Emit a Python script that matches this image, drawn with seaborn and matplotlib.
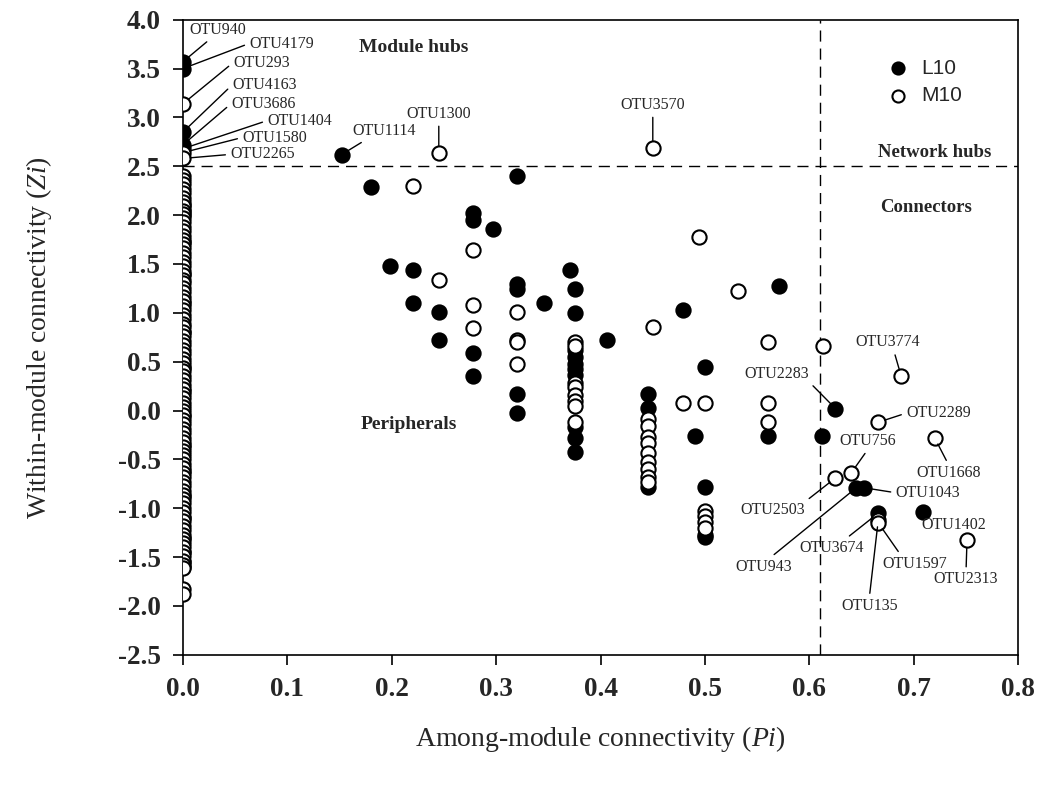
import pandas as pd
import numpy as np
import matplotlib
matplotlib.use('Agg')
import matplotlib.pyplot as plt
import seaborn as sns

# L10 (filled circles): Pi and Zi
L10_pi = [0.0, 0.0, 0.0, 0.0, 0.0,
          0.0, 0.0, 0.0, 0.0, 0.0, 0.0, 0.0, 0.0, 0.0, 0.0, 0.0, 0.0, 0.0,
          0.0, 0.0, 0.0, 0.0, 0.0,
          0.152, 0.180, 0.198, 0.220, 0.220, 0.245, 0.245,
          0.278, 0.278, 0.278, 0.278, 0.297,
          0.320, 0.320, 0.320, 0.320, 0.320, 0.346, 0.371, 0.375, 0.375,
          0.375, 0.375, 0.375, 0.375, 0.375, 0.375, 0.375, 0.375,
          0.406, 0.445, 0.445, 0.445, 0.479, 0.490,
          0.500, 0.500, 0.500, 0.500, 0.571, 0.560, 0.612,
          0.625, 0.645, 0.652, 0.666, 0.709]
L10_zi = [3.57, 3.50, 2.85, 2.72, 2.68,
          2.10, 2.05, 2.00, 1.72, 1.40, 1.10, 0.80, 0.45, 0.20, -0.06, -0.35, -0.62, -0.88,
          -1.10, -1.30, -1.45, -1.55, -1.60,
          2.62, 2.29, 1.48, 1.44, 1.10, 1.01, 0.72,
          2.02, 1.95, 0.59, 0.35, 1.86,
          2.40, 1.29, 1.24, 0.17, -0.03, 1.10, 1.44, 1.24, 1.00,
          0.62, 0.55, 0.48, 0.42, 0.36, -0.17, -0.28, -0.42,
          0.72, 0.17, 0.03, -0.78, 1.03, -0.26,
          0.45, -0.78, -1.27, -1.29, 1.27, -0.26, -0.26,
          0.02, -0.79, -0.79, -1.05, -1.04]

# M10 (open circles): Pi and Zi
M10_zero_zi = [3.14, 2.64, 2.58,
               2.40, 2.36, 2.32, 2.27, 2.23, 2.18, 2.13, 2.09, 2.04, 2.01, 1.97, 1.93,
               1.88, 1.84, 1.79, 1.75, 1.70, 1.66, 1.61, 1.57, 1.52, 1.48, 1.43, 1.39,
               1.34, 1.30, 1.25, 1.21, 1.16, 1.12, 1.07, 1.03, 0.98, 0.94, 0.89, 0.85,
               0.80, 0.76, 0.71, 0.67, 0.62, 0.58, 0.53, 0.49, 0.44, 0.40, 0.35, 0.31,
               0.26, 0.22, 0.17, 0.13, 0.08, 0.04, -0.01, -0.05, -0.10, -0.14, -0.19,
               -0.23, -0.28, -0.32, -0.37, -0.41, -0.46, -0.50, -0.55, -0.59, -0.64,
               -0.68, -0.73, -0.77, -0.82, -0.86, -0.91, -0.95, -1.00, -1.04, -1.09,
               -1.13, -1.18, -1.22, -1.27, -1.31, -1.36, -1.40, -1.45, -1.49, -1.54,
               -1.58, -1.61, -1.83, -1.88]
M10_rest_pi = [0.220, 0.245, 0.245, 0.278, 0.278, 0.278,
               0.320, 0.320, 0.320, 0.320,
               0.375, 0.375, 0.375, 0.375, 0.375, 0.375, 0.375, 0.375,
               0.445, 0.445, 0.445, 0.445, 0.445, 0.445, 0.445, 0.445, 0.445,
               0.450, 0.450, 0.479, 0.494, 0.500, 0.500, 0.500, 0.500, 0.500,
               0.532, 0.560, 0.560, 0.560, 0.613,
               0.625, 0.640, 0.666, 0.666, 0.666, 0.688, 0.720, 0.751]
M10_rest_zi = [2.30, 2.64, 1.34, 1.64, 1.08, 0.84,
               1.01, 0.72, 0.70, 0.48,
               0.70, 0.66, 0.28, 0.24, 0.16, 0.10, 0.05, -0.12,
               -0.09, -0.16, -0.27, -0.33, -0.43, -0.53, -0.60, -0.68, -0.73,
               2.69, 0.85, 0.08, 1.78, 0.08, -1.03, -1.08, -1.14, -1.20,
               1.22, 0.70, 0.08, -0.12, 0.66,
               -0.69, -0.64, -0.12, -1.12, -1.15, 0.35, -0.28, -1.33]
M10_pi = [0.0] * len(M10_zero_zi) + M10_rest_pi
M10_zi = M10_zero_zi + M10_rest_zi

# labelled OTUs: name, Pi, Zi
otu_names = ['OTU940', 'OTU4179', 'OTU293', 'OTU4163', 'OTU3686', 'OTU1404', 'OTU1580', 'OTU2265',
             'OTU1114', 'OTU1300', 'OTU3570', 'OTU3774', 'OTU2283', 'OTU2289', 'OTU756',
             'OTU1668', 'OTU1043', 'OTU2503', 'OTU1402', 'OTU3674', 'OTU943', 'OTU1597',
             'OTU135', 'OTU2313']
otu_pi = [0.0, 0.0, 0.0, 0.0, 0.0, 0.0, 0.0, 0.0,
          0.152, 0.245, 0.450, 0.688, 0.625, 0.666, 0.640,
          0.720, 0.652, 0.625, 0.709, 0.666, 0.645, 0.666,
          0.666, 0.751]
otu_zi = [3.57, 3.50, 3.14, 2.85, 2.72, 2.68, 2.64, 2.58,
          2.62, 2.64, 2.69, 0.35, 0.02, -0.12, -0.64,
          -0.28, -0.79, -0.69, -1.04, -1.05, -0.79, -1.15,
          -1.12, -1.33]

# label placement (offset in pixels, alignment, where the leader line leaves the text)
otu_offset = [(6, 32), (66, 25), (50, 41), (49, 47), (48, 41), (84, 28), (59, 15), (47, 4),
              (42, 24), (0, 39), (0, 43), (-14, 34), (-59, 35), (60, 9), (17, 32),
              (14, -35), (64, -5), (-63, -32), (31, -13), (-47, -35), (-93, -79), (36, -41),
              (-9, -86), (-1, -39)]
otu_ha = ['left'] * 8 + ['center'] * 16
otu_relpos = [(0.4, 0), (0, 0.5), (0, 0.5), (0, 0.5), (0, 0.5), (0, 0.5), (0, 0.5), (0, 0.5),
              (0.25, 0), (0.5, 0), (0.5, 0), (0.6, 0), (1, 0), (0, 0.5), (0.5, 0),
              (0.5, 1), (0, 0.5), (1, 1), (0.1, 1), (0.7, 1), (0.6, 1), (0.3, 1),
              (0.5, 1), (0.5, 1)]

df = pd.concat([
    pd.DataFrame({'Pi': L10_pi, 'Zi': L10_zi, 'group': 'L10'}),
    pd.DataFrame({'Pi': M10_pi, 'Zi': M10_zi, 'group': 'M10'}),
])

sns.set_style('ticks')
plt.rcParams['font.family'] = ['Liberation Serif', 'DejaVu Serif']
plt.rcParams['mathtext.fontset'] = 'custom'
plt.rcParams['mathtext.rm'] = 'Liberation Serif'
plt.rcParams['mathtext.it'] = 'Liberation Serif:italic'

fig = plt.figure(figsize=(10.4, 7.87), dpi=100)
ax = fig.add_axes([0.176, 0.168, 0.803, 0.807])

sns.scatterplot(data=df[df.group == 'L10'], x='Pi', y='Zi', ax=ax, color='black',
                edgecolor='black', linewidth=1.5, s=105, label='L10', zorder=3)
sns.scatterplot(data=df[df.group == 'M10'], x='Pi', y='Zi', ax=ax, color='white',
                edgecolor='black', linewidth=1.5, s=105, label='M10', zorder=4)

# threshold lines
ax.axhline(2.5, color='black', lw=1, ls=(0, (8, 5)), zorder=1)
ax.axvline(0.61, color='black', lw=1, ls=(0, (8, 5)), zorder=1)

ax.set_xlim(0, 0.8)
ax.set_ylim(-2.5, 4.0)
ax.set_xticks(np.arange(0, 0.81, 0.1))
ax.set_yticks(np.arange(-2.5, 4.01, 0.5))
ax.set_xticklabels([f'{v:.1f}' for v in np.arange(0, 0.81, 0.1)])
ax.set_yticklabels([f'{v:.1f}' for v in np.arange(-2.5, 4.01, 0.5)])
ax.tick_params(axis='both', direction='out', length=7, width=1.2, labelsize=19.5, color='black')
ax.tick_params(axis='y', pad=9)
ax.tick_params(axis='x', pad=9)
for lab in ax.get_xticklabels() + ax.get_yticklabels():
    lab.set_fontweight('bold')
for sp in ax.spines.values():
    sp.set_visible(True)
    sp.set_linewidth(1.2)
    sp.set_color('black')

ax.set_xlabel('Among-module connectivity ($\\mathit{Pi}$)', fontsize=20, labelpad=16)
ax.set_ylabel('Within-module connectivity ($\\mathit{Zi}$)', fontsize=20, labelpad=46)

# region names
ax.text(0.221, 3.72, 'Module hubs', fontsize=14, fontweight='bold', ha='center', va='center')
ax.text(0.72, 2.64, 'Network hubs', fontsize=13.5, fontweight='bold', ha='center', va='center')
ax.text(0.712, 2.08, 'Connectors', fontsize=13.5, fontweight='bold', ha='center', va='center')
ax.text(0.216, -0.14, 'Peripherals', fontsize=14, fontweight='bold', ha='center', va='center')

for name, px, zy, off, ha, rp in zip(otu_names, otu_pi, otu_zi, otu_offset, otu_ha, otu_relpos):
    ax.annotate(name, xy=(px, zy), xytext=off, textcoords='offset pixels',
                ha=ha, va='center', fontsize=11.5, zorder=6,
                arrowprops=dict(arrowstyle='-', color='black', lw=1, relpos=rp,
                                shrinkA=1, shrinkB=5))

leg = ax.legend(loc='upper right', bbox_to_anchor=(0.955, 0.968), frameon=False,
                prop={'family': 'Liberation Sans', 'size': 15}, markerscale=0.85,
                handletextpad=0.1, labelspacing=0.4)

fig.savefig('out.png', dpi=100)
